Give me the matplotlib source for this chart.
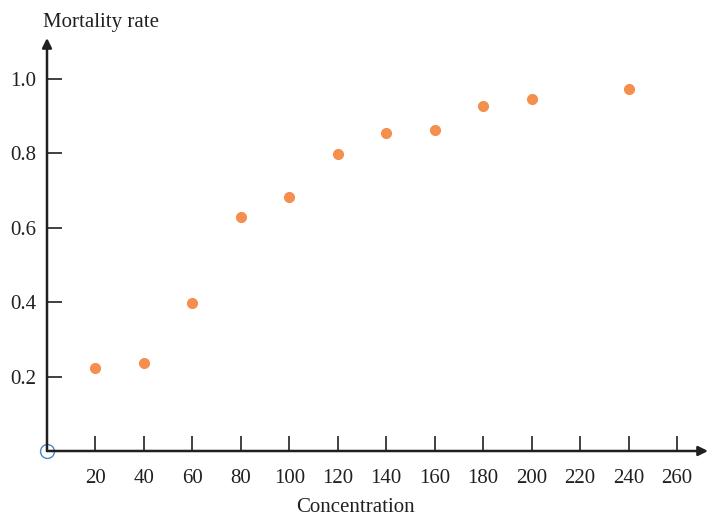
import numpy as np
import matplotlib as mpl
mpl.use('Agg')
import matplotlib.pyplot as plt

mpl.rcParams['font.family'] = 'Liberation Serif'
mpl.rcParams['font.size'] = 15

conc = [20, 40, 60, 80, 100, 120, 140, 160, 180, 200, 240]
mort = [0.223, 0.236, 0.398, 0.630, 0.684, 0.799, 0.856, 0.864, 0.926, 0.945, 0.974]
xticks = [20, 40, 60, 80, 100, 120, 140, 160, 180, 200, 220, 240, 260]
yticks = [0.2, 0.4, 0.6, 0.8, 1.0]

axcol = '#231f20'

fig = plt.figure(figsize=(7.1, 5.15), dpi=100)
ax = fig.add_axes([47/710, 64/515, (708-47)/710, (451-38)/515])
ax.set_xlim(0, 272.8)
ax.set_ylim(0, 1.11)

for s in ax.spines.values():
    s.set_visible(False)

# axes with arrow heads
ax.annotate('', xy=(1, 0), xytext=(0, 0), xycoords='axes fraction',
            arrowprops=dict(arrowstyle='-|>', color=axcol, lw=1.8,
                            mutation_scale=14, shrinkA=0, shrinkB=0))
ax.annotate('', xy=(0, 1), xytext=(0, 0), xycoords='axes fraction',
            arrowprops=dict(arrowstyle='-|>', color=axcol, lw=1.8,
                            mutation_scale=14, shrinkA=0, shrinkB=0))

ax.plot(conc, mort, ls='None', marker='o', ms=7, mfc='#f58f4e', mec='#f58f4e')

# origin marker
ax.plot([0], [0], ls='None', marker='o', ms=10, mfc='none', mec='#4a86c8',
        mew=1.0, clip_on=False)

ax.set_xticks(xticks)
ax.set_yticks(yticks)
ax.set_yticklabels(['{:.1f}'.format(v) for v in yticks])
ax.tick_params(axis='both', direction='in', length=11, width=1.2,
               color=axcol, labelcolor=axcol)
ax.tick_params(axis='x', pad=13)
ax.tick_params(axis='y', pad=8)

fig.text(355/710, 1 - 507/515, 'Concentration', ha='center', va='center',
         color=axcol)
fig.text(101/710, 1 - 22/515, 'Mortality rate', ha='center', va='center',
         color=axcol)

plt.savefig('out.png', dpi=100)
plt.close()
